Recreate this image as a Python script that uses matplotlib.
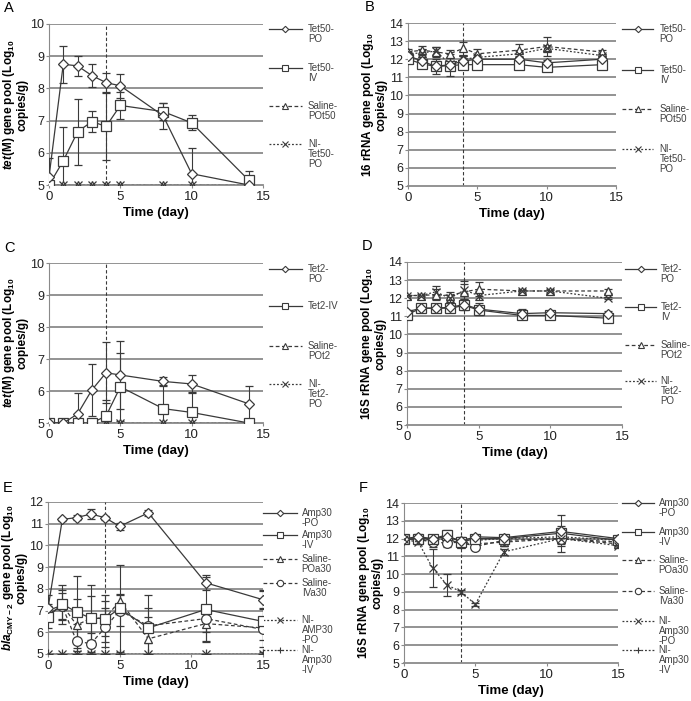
import numpy as np
import matplotlib
matplotlib.use("Agg")
import matplotlib.pyplot as plt
from matplotlib.lines import Line2D

plt.rcParams['font.family'] = ['Liberation Sans', 'DejaVu Sans']
plt.rcParams['mathtext.fontset'] = 'custom'
plt.rcParams['mathtext.rm'] = 'Liberation Sans:bold'
plt.rcParams['mathtext.it'] = 'Liberation Sans:italic:bold'
plt.rcParams['mathtext.bf'] = 'Liberation Sans:bold'

# ---- data ----
days_ab = [0, 1, 2, 3, 4, 5, 8, 10, 14]
days_ef = [0, 1, 2, 3, 4, 5, 7, 11, 15]

a_po = [5.25, 8.75, 8.70, 8.40, 8.18, 8.08, 7.15, 5.35, 5.00]
a_po_err = [0.6, 0.57, 0.3, 0.35, 0.3, 0.37, 0.4, 0.8, 0.0]
a_iv = [5.00, 5.75, 6.65, 6.97, 6.82, 7.47, 7.28, 6.93, 5.15]
a_iv_err = [0.0, 1.05, 1.02, 0.33, 1.03, 0.42, 0.27, 0.23, 0.3]
a_sal = [5, 5, 5, 5, 5, 5, 5, 5, 5]
a_ni = [5, 5, 5, 5, 5, 5, 5, 5, 5]

b_po = [12.2, 11.9, 11.6, 11.7, 11.9, 12.0, 12.0, 11.8, 12.0]
b_po_err = [0.15, 0.2, 0.4, 0.6, 0.3, 0.15, 0.2, 0.15, 0.1]
b_iv = [12.0, 11.75, 11.6, 11.65, 11.7, 11.7, 11.7, 11.55, 11.7]
b_iv_err = [0.15, 0.15, 0.2, 0.2, 0.15, 0.1, 0.15, 0.1, 0.1]
b_sal = [12.4, 12.5, 12.4, 12.3, 12.6, 12.3, 12.5, 12.7, 12.4]
b_sal_err = [0.15, 0.25, 0.3, 0.2, 0.35, 0.25, 0.35, 0.5, 0.1]
b_ni = [12.3, 12.35, 12.45, 11.75, 12.0, 12.1, 12.3, 12.6, 12.2]
b_ni_err = [0.1, 0.2, 0.2, 0.3, 0.2, 0.15, 0.2, 0.2, 0.1]

c_po = [5, 5, 5.28, 6.03, 6.57, 6.5, 6.3, 6.22, 5.6]
c_po_err = [0, 0, 0.65, 0.82, 0.95, 1.05, 0.15, 0.27, 0.55]
c_iv = [5, 5, 5, 5, 5.22, 6.13, 5.45, 5.33, 5.0]
c_iv_err = [0, 0, 0, 0, 0.5, 1.07, 0.75, 0.65, 0]
c_sal = [5, 5, 5, 5, 5, 5, 5, 5, 5]
c_ni = [5, 5, 5, 5, 5, 5, 5, 5, 5]

d_po = [11.25, 11.45, 11.45, 11.5, 11.65, 11.4, 11.15, 11.2, 11.15]
d_po_err = [0.1, 0.1, 0.15, 0.25, 0.3, 0.35, 0.25, 0.1, 0.15]
d_iv = [11.1, 11.45, 11.45, 11.45, 11.6, 11.35, 11.05, 11.05, 10.9]
d_iv_err = [0.1, 0.1, 0.1, 0.15, 0.2, 0.2, 0.15, 0.1, 0.1]
d_sal = [12.15, 12.15, 12.2, 12.15, 12.35, 12.5, 12.4, 12.4, 12.4]
d_sal_err = [0.05, 0.1, 0.3, 0.2, 0.45, 0.4, 0.1, 0.1, 0.1]
d_ni = [12.15, 12.15, 12.35, 12.0, 12.45, 12.15, 12.4, 12.4, 12.0]
d_ni_err = [0.05, 0.05, 0.3, 0.2, 0.5, 0.25, 0.05, 0.05, 0.05]

e_po = [7.1, 11.2, 11.28, 11.45, 11.27, 10.88, 11.5, 8.28, 7.5]
e_po_err = [0.6, 0.08, 0.1, 0.25, 0.1, 0.15, 0.15, 0.35, 0.45]
e_iv = [6.72, 7.3, 6.93, 6.65, 6.63, 7.1, 6.2, 7.05, 6.5]
e_iv_err = [0.5, 0.9, 1.65, 1.55, 1.1, 2.0, 1.5, 1.5, 1.4]
e_sal_po = [7.0, 7.25, 6.33, 6.65, 6.65, 7.45, 5.7, 6.4, 6.2]
e_sal_po_err = [0.3, 0.7, 1.2, 1.0, 0.8, 0.3, 1.0, 0.8, 0.9]
e_sal_iv = [6.85, 7.2, 5.58, 5.48, 6.23, 7.0, 6.3, 6.63, 6.13]
e_sal_iv_err = [0.3, 0.6, 0.8, 0.5, 0.9, 0.7, 0.8, 0.6, 0.5]
e_ni_po = [5, 5, 5, 5, 5, 5, 5, 5, 5]
e_ni_iv = [5, 5, 5, 5, 5, 5, 5, 5, 5]

f_po = [12.0, 12.1, 12.0, 12.1, 11.85, 12.1, 12.05, 12.4, 12.0]
f_po_err = [0.1, 0.15, 0.1, 0.2, 0.2, 0.1, 0.1, 0.3, 0.1]
f_iv = [11.95, 12.0, 12.0, 12.2, 11.8, 12.0, 12.0, 12.3, 11.9]
f_iv_err = [0.1, 0.1, 0.1, 0.3, 0.1, 0.2, 0.15, 1.05, 0.1]
f_sal_po = [12.0, 11.9, 11.9, 12.0, 11.7, 11.7, 11.8, 12.0, 11.7]
f_sal_po_err = [0.1, 0.1, 0.2, 0.2, 0.2, 0.15, 0.2, 0.3, 0.1]
f_sal_iv = [12.0, 11.95, 11.8, 11.75, 11.8, 11.55, 11.9, 12.0, 11.8]
f_sal_iv_err = [0.1, 0.1, 0.3, 0.2, 0.3, 0.15, 0.3, 0.4, 0.1]
f_ni_po = [11.95, 11.8, 10.35, 9.4, 9.0, 8.3, 11.25, 12.0, 11.6]
f_ni_po_err = [0.1, 0.1, 1.05, 0.62, 0.1, 0.1, 0.15, 0.2, 0.1]
f_ni_iv = [11.9, 12.0, 11.9, 12.0, 11.7, 11.9, 12.0, 12.1, 11.9]
f_ni_iv_err = [0.1, 0.1, 0.1, 0.1, 0.1, 0.1, 0.1, 0.2, 0.1]

LC = '#3a3a3a'
GC = '#8a8a8a'

# style per series kind: marker, linestyle, marker size
STY = {
    'po': ('D', '-', 5),
    'iv': ('s', '-', 7),
    'sal': ('^', (0, (3, 2)), 6),
    'salc': ('o', (0, (3, 2)), 7),
    'ni': ('x', (0, (1.5, 1.5)), 6),
    'nip': ('+', (0, (1.5, 1.5)), 7),
}


def series(ax, x, y, err, kind):
    m, ls, ms = STY[kind]
    fc = 'white' if m not in ('x', '+') else LC
    ax.errorbar(x, y, yerr=err, color=LC, lw=0.9, ls=ls, marker=m, ms=ms,
                mfc=fc, mec=LC, mew=0.9, ecolor=LC, elinewidth=0.8,
                capsize=3, capthick=0.8, zorder=3)


def legend(ax, entries, ys, x0=1.03, x1=1.18, xt=1.21):
    for (kind, lab), y in zip(entries, ys):
        m, ls, ms = STY[kind]
        fc = 'white' if m not in ('x', '+') else LC
        ax.add_line(Line2D([x0, x1], [y, y], transform=ax.transAxes, color=LC,
                           lw=0.9, ls=ls, clip_on=False))
        ax.add_line(Line2D([(x0 + x1) / 2], [y], transform=ax.transAxes,
                           marker=m, ms=ms * 0.65, mfc=fc, mec=LC, mew=0.8,
                           ls='none', clip_on=False))
        lines = lab.split('\n')
        for i, s in enumerate(lines):
            ax.annotate(s, xy=(xt, y), xycoords='axes fraction',
                        xytext=(0, -7.3 * i), textcoords='offset points',
                        fontsize=7, color='#404040', va='center', ha='left')


def frame(ax, ylo, yhi, ylab, letter):
    ax.set_xlim(0, 15)
    ax.set_ylim(ylo, yhi)
    ax.set_xticks([0, 5, 10, 15])
    ax.set_yticks(np.arange(ylo, yhi + 1, 1))
    for yv in range(ylo + 1, yhi + 1):
        ax.axhline(yv, color=GC, lw=1.3, zorder=1)
    ax.axvline(4, color=LC, lw=0.8, ls=(0, (3, 2)), zorder=2)
    for s in ('top', 'right'):
        ax.spines[s].set_visible(False)
    ax.spines['left'].set_color(GC)
    ax.spines['bottom'].set_color(GC)
    ax.spines['bottom'].set_linewidth(1.3)
    ax.tick_params(axis='x', labelsize=9.5, color=GC, length=2.5, pad=1.5,
                   labelcolor='#222222')
    ax.tick_params(axis='y', labelsize=9, color=GC, length=2.5, pad=1,
                   labelcolor='#222222')
    ax.set_xlabel('Time (day)', fontsize=9.5, fontweight='bold', labelpad=3)
    ax.set_ylabel(ylab, fontsize=8.5, fontweight='bold', labelpad=1,
                  linespacing=1.0)
    ax.text(-0.21, 1.14, letter, transform=ax.transAxes, fontsize=10.5,
            va='top', ha='left')


W, H = 691, 701
fig = plt.figure(figsize=(W / 100, H / 100), dpi=100)


def box(l, r, t, b):
    return fig.add_axes([l / W, 1 - b / H, (r - l) / W, (b - t) / H])


tet_lab = r"$\it{tet}$(M) gene pool (Log$_{10}$" + "\ncopies/g)"
r16_lab = "16 rRNA gene pool (Log" + r"$_{10}$" + "\ncopies/g)"
r16s_lab = "16S rRNA gene pool (Log" + r"$_{10}$" + "\ncopies/g)"
bla_lab = r"$\it{bla}_{\rm{CMY-2}}$ gene pool (Log$_{10}$" + "\ncopies/g)"

# A
ax = box(49, 263, 24, 185)
frame(ax, 5, 10, tet_lab, 'A')
series(ax, days_ab, a_sal, None, 'sal')
series(ax, days_ab, a_ni, None, 'ni')
series(ax, days_ab, a_iv, a_iv_err, 'iv')
series(ax, days_ab, a_po, a_po_err, 'po')
legend(ax, [('po', 'Tet50-\nPO'), ('iv', 'Tet50-\nIV'), ('sal', 'Saline-\nPOt50'),
            ('ni', 'NI-\nTet50-\nPO')], [0.969, 0.727, 0.491, 0.255])

# B
ax = box(408, 616, 23, 186)
frame(ax, 5, 14, r16_lab, 'B')
series(ax, days_ab, b_sal, b_sal_err, 'sal')
series(ax, days_ab, b_ni, b_ni_err, 'ni')
series(ax, days_ab, b_iv, b_iv_err, 'iv')
series(ax, days_ab, b_po, b_po_err, 'po')
legend(ax, [('po', 'Tet50-\nPO'), ('iv', 'Tet50-\nIV'), ('sal', 'Saline-\nPOt50'),
            ('ni', 'NI-\nTet50-\nPO')], [0.963, 0.712, 0.472, 0.227])

# C
ax = box(49, 263, 263, 423)
frame(ax, 5, 10, tet_lab, 'C')
series(ax, days_ab, c_sal, None, 'sal')
series(ax, days_ab, c_ni, None, 'ni')
series(ax, days_ab, c_iv, c_iv_err, 'iv')
series(ax, days_ab, c_po, c_po_err, 'po')
legend(ax, [('po', 'Tet2-\nPO'), ('iv', 'Tet2-IV'), ('sal', 'Saline-\nPOt2'),
            ('ni', 'NI-\nTet2-\nPO')], [0.963, 0.731, 0.481, 0.244])

# D
ax = box(407, 622, 262, 425)
frame(ax, 5, 14, r16s_lab, 'D')
series(ax, days_ab, d_sal, d_sal_err, 'sal')
series(ax, days_ab, d_ni, d_ni_err, 'ni')
series(ax, days_ab, d_iv, d_iv_err, 'iv')
series(ax, days_ab, d_po, d_po_err, 'po')
legend(ax, [('po', 'Tet2-\nPO'), ('iv', 'Tet2-\nIV'), ('sal', 'Saline-\nPOt2'),
            ('ni', 'NI-\nTet2-\nPO')], [0.957, 0.724, 0.491, 0.27],
       x0=1.013, x1=1.16, xt=1.18)

# E
ax = box(48, 263, 502, 654)
frame(ax, 5, 12, bla_lab, 'E')
series(ax, days_ef, e_ni_po, None, 'ni')
series(ax, days_ef, e_ni_iv, None, 'nip')
series(ax, days_ef, e_sal_po, e_sal_po_err, 'sal')
series(ax, days_ef, e_sal_iv, e_sal_iv_err, 'salc')
series(ax, days_ef, e_iv, e_iv_err, 'iv')
series(ax, days_ef, e_po, e_po_err, 'po')
legend(ax, [('po', 'Amp30\n-PO'), ('iv', 'Amp30\n-IV'), ('sal', 'Saline-\nPOa30'),
            ('salc', 'Saline-\nIVa30'), ('ni', 'NI-\nAMP30\n-PO'),
            ('nip', 'NI-\nAmp30\n-IV')],
       [0.928, 0.783, 0.625, 0.467, 0.224, 0.026], x0=1.0, x1=1.16, xt=1.18)

# F
ax = box(404, 618, 503, 663)
frame(ax, 5, 14, r16s_lab, 'F')
series(ax, days_ef, f_ni_iv, f_ni_iv_err, 'nip')
series(ax, days_ef, f_sal_po, f_sal_po_err, 'sal')
series(ax, days_ef, f_sal_iv, f_sal_iv_err, 'salc')
series(ax, days_ef, f_iv, f_iv_err, 'iv')
series(ax, days_ef, f_po, f_po_err, 'po')
series(ax, days_ef, f_ni_po, f_ni_po_err, 'ni')
legend(ax, [('po', 'Amp30\n-PO'), ('iv', 'Amp30\n-IV'), ('sal', 'Saline-\nPOa30'),
            ('salc', 'Saline-\nIVa30'), ('ni', 'NI-\nAmp30\n-PO'),
            ('nip', 'NI-\nAmp30\n-IV')],
       [1.0, 0.819, 0.644, 0.45, 0.263, 0.081], x0=1.02, x1=1.17, xt=1.19)

fig.savefig('out.png', dpi=100)
